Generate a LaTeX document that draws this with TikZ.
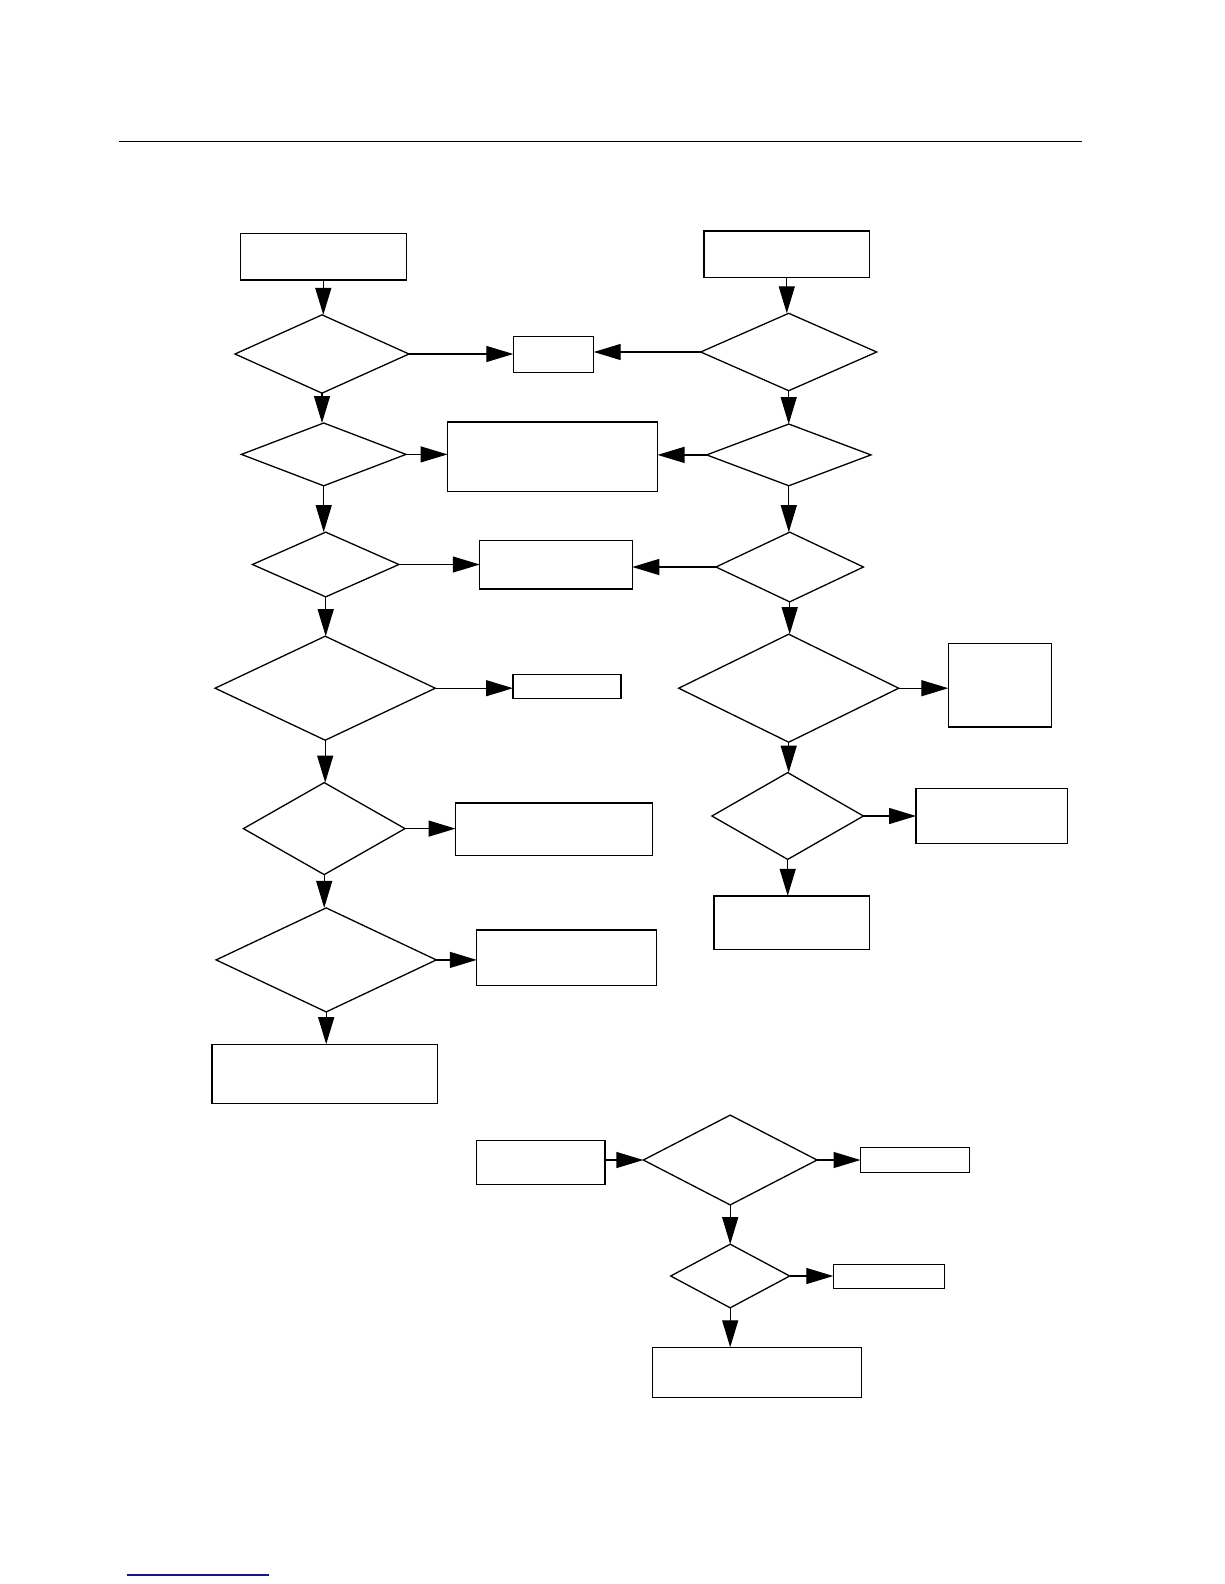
\documentclass[tikz,border=0pt]{standalone}
\usetikzlibrary{shapes.geometric,arrows.meta}
\definecolor{linkblue}{RGB}{20,20,140}
\begin{document}
\begin{tikzpicture}[x=1pt,y=-1pt,
  box/.style={draw,line width=1.3pt,inner sep=0pt,outer sep=0pt,rectangle},
  dia/.style={draw,line width=1.3pt,inner sep=0pt,outer sep=0pt,diamond},
  arr/.style={line width=1.3pt,-{Triangle[length=27pt,width=16pt]}}]
\path[use as bounding box] (0,0) rectangle (1224,1584);
\draw[line width=1.5pt] (119,141.5) -- (1081.5,141.5);
\draw[linkblue,line width=1.2pt] (126.7,1575) -- (269,1575);
% boxes
\node[box,minimum width=166pt,minimum height=46.7pt] (L0) at (323.3,256.7) {};
\node[box,minimum width=80.4pt,minimum height=36pt] (S1) at (553.5,354.3) {};
\node[box,minimum width=165.5pt,minimum height=46.7pt] (R0) at (786.8,254.4) {};
\node[box,minimum width=210pt,minimum height=69.8pt] (M2) at (552.5,456.9) {};
\node[box,minimum width=152.5pt,minimum height=48.5pt] (M3) at (556,564.6) {};
\node[box,minimum width=108pt,minimum height=24.2pt] (S4) at (567,686.7) {};
\node[box,minimum width=103pt,minimum height=83.8pt] (R4b) at (999.8,685.2) {};
\node[box,minimum width=197pt,minimum height=52.5pt] (M5) at (554,829.2) {};
\node[box,minimum width=151.5pt,minimum height=54.6pt] (R5b) at (991.8,816) {};
\node[box,minimum width=155.5pt,minimum height=53.5pt] (R6) at (791.8,922.6) {};
\node[box,minimum width=179.7pt,minimum height=55.7pt] (M6) at (566.6,957.9) {};
\node[box,minimum width=225.3pt,minimum height=59.6pt] (L7) at (324.7,1074) {};
\node[box,minimum width=128.3pt,minimum height=44.4pt] (B0) at (540.9,1162.4) {};
\node[box,minimum width=109pt,minimum height=25.3pt] (BB1) at (915,1159.9) {};
\node[box,minimum width=111pt,minimum height=24.2pt] (BB2) at (888.8,1276.5) {};
\node[box,minimum width=209pt,minimum height=50.5pt] (BB3) at (756.9,1372.5) {};
% diamonds
\node[dia,minimum width=174pt,minimum height=78.3pt] (L1) at (322,354) {};
\node[dia,minimum width=176pt,minimum height=77.4pt] (R1) at (788.7,352) {};
\node[dia,minimum width=164.6pt,minimum height=62.8pt] (L2) at (323.7,454.4) {};
\node[dia,minimum width=164.3pt,minimum height=61.7pt] (R2) at (788.8,454.9) {};
\node[dia,minimum width=146.5pt,minimum height=64.7pt] (L3) at (325.7,564.5) {};
\node[dia,minimum width=147.5pt,minimum height=69.7pt] (R3) at (789.7,567) {};
\node[dia,minimum width=220.2pt,minimum height=104pt] (L4) at (325.2,688.2) {};
\node[dia,minimum width=220pt,minimum height=108pt] (R4) at (788.7,688.2) {};
\node[dia,minimum width=161.6pt,minimum height=92pt] (L5) at (324.2,828.6) {};
\node[dia,minimum width=151.5pt,minimum height=86.8pt] (R5) at (787.7,816) {};
\node[dia,minimum width=220.2pt,minimum height=104pt] (L6) at (326.2,959.9) {};
\node[dia,minimum width=173.7pt,minimum height=89.8pt] (BD1) at (730.2,1160) {};
\node[dia,minimum width=119pt,minimum height=63.6pt] (BD2) at (730.2,1276) {};
% vertical arrows left
\draw[arr] (L0.south) -- (L0.south |- L1.north);
\draw[arr] (L1.south) -- (L1.south |- L2.north);
\draw[arr] (L2.south) -- (L2.south |- L3.north);
\draw[arr] (L3.south) -- (L3.south |- L4.north);
\draw[arr] (L4.south) -- (L4.south |- L5.north);
\draw[arr] (L5.south) -- (L5.south |- L6.north);
\draw[arr] (L6.south) -- (L6.south |- L7.north);
% vertical arrows right
\draw[arr] (R0.south) -- (R0.south |- R1.north);
\draw[arr] (R1.south) -- (R1.south |- R2.north);
\draw[arr] (R2.south) -- (R2.south |- R3.north);
\draw[arr] (R3.south) -- (R3.south |- R4.north);
\draw[arr] (R4.south) -- (R4.south |- R5.north);
\draw[arr] (R5.south) -- (R5.south |- R6.north);
% horizontal arrows
\draw[arr] (L1.east) -- (L1.east -| S1.west);
\draw[arr] (R1.west) -- (R1.west -| S1.east);
\draw[arr] (L2.east) -- (L2.east -| M2.west);
\draw[arr] (R2.west) -- (R2.west -| M2.east);
\draw[arr] (L3.east) -- (L3.east -| M3.west);
\draw[arr] (R3.west) -- (R3.west -| M3.east);
\draw[arr] (L4.east) -- (L4.east -| S4.west);
\draw[arr] (R4.east) -- (R4.east -| R4b.west);
\draw[arr] (L5.east) -- (L5.east -| M5.west);
\draw[arr] (R5.east) -- (R5.east -| R5b.west);
\draw[arr] (L6.east) -- (L6.east -| M6.west);
% bottom group
\draw[arr] (B0.east |- BD1.west) -- (BD1.west);
\draw[arr] (BD1.east) -- (BD1.east -| BB1.west);
\draw[arr] (BD1.south) -- (BD1.south |- BD2.north);
\draw[arr] (BD2.east) -- (BD2.east -| BB2.west);
\draw[arr] (BD2.south) -- (BD2.south |- BB3.north);
\end{tikzpicture}
\end{document}
